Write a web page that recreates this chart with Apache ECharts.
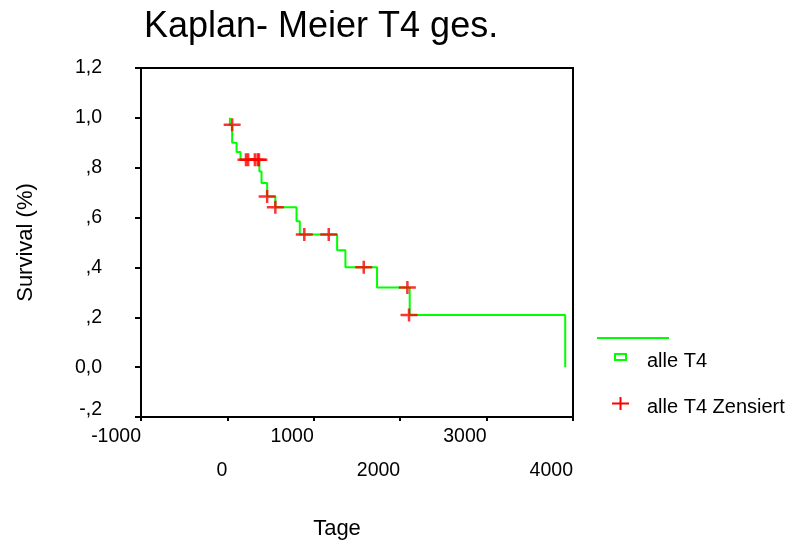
<!DOCTYPE html>
<html>
<head>
<meta charset="utf-8">
<script src="https://cdn.jsdelivr.net/npm/echarts@6/dist/echarts.min.js"></script>
<style>
html,body{margin:0;padding:0;background:#fff;}
#c{width:790px;height:545px;}
</style>
</head>
<body>
<div id="c"></div>
<script>
// ---- data ----
var kmTimes = [29, 29, 55, 106, 152, 370, 395, 460, 555, 800, 838, 1270, 1366, 1732, 2110, 3910];
var kmSurv  = [1.0, 0.972, 0.90, 0.863, 0.832, 0.785, 0.739, 0.685, 0.641, 0.585, 0.532, 0.469, 0.401, 0.319, 0.209, 0.0];
var censTimes = [55, 215, 240, 318, 350, 365, 460, 555, 890, 1173, 1578, 2083, 2102];
var censSurv  = [0.972, 0.832, 0.832, 0.832, 0.832, 0.832, 0.685, 0.641, 0.532, 0.532, 0.401, 0.319, 0.209];
var xTickValues = [-1000, 0, 1000, 2000, 3000, 4000];
var xTickLabels = ['-1000', '0', '1000', '2000', '3000', '4000'];
var yTickValues = [-0.2, 0, 0.2, 0.4, 0.6, 0.8, 1.0, 1.2];
var yTickLabels = ['-,2', '0,0', ',2', ',4', ',6', ',8', '1,0', '1,2'];
var titleText = 'Kaplan- Meier T4 ges.';
var xName = 'Tage';
var yName = 'Survival (%)';
var seriesNames = ['alle T4', 'alle T4 Zensiert'];

var FONT = '"Liberation Sans", Arial, sans-serif';
function lookup(vals, labels, v) {
  for (var i = 0; i < vals.length; i++) if (Math.abs(vals[i] - v) < 1e-6) return {i: i, t: labels[i]};
  return {i: -1, t: ''};
}
var kmData = kmTimes.map(function (t, i) { return [t, kmSurv[i]]; });
var censData = censTimes.map(function (t, i) { return [t, censSurv[i]]; });
var PLUS = 'path://M0,5.25H7.25V0H9.75V5.25H17V7.75H9.75V13H7.25V7.75H0Z';

var chart = echarts.init(document.getElementById('c'), null, {renderer: 'canvas'});
chart.setOption({
  animation: false,
  backgroundColor: '#ffffff',
  title: {
    text: titleText, left: 144, top: 9, padding: 0,
    textStyle: {fontFamily: FONT, fontSize: 36, fontWeight: 'normal', color: '#000'}
  },
  grid: {left: 141, right: 217, top: 68, bottom: 127, show: true, borderColor: '#000', borderWidth: 2, containLabel: false},
  xAxis: {
    type: 'value', min: -1000, max: 4000, interval: 1000,
    name: xName, nameLocation: 'middle', nameGap: 101,
    nameTextStyle: {fontFamily: FONT, fontSize: 22, color: '#000', padding: [0, 40, 0, 0]},
    axisLine: {show: true, onZero: false, lineStyle: {color: '#000', width: 2}},
    axisTick: {show: true, length: 4, lineStyle: {color: '#000', width: 2}},
    splitLine: {show: false},
    axisLabel: {
      fontFamily: FONT, fontSize: 19.5, color: '#000', align: 'right', margin: 3, lineHeight: 34,
      formatter: function (v) {
        var r = lookup(xTickValues, xTickLabels, v);
        return (r.i % 2 === 1 ? '\n' : '') + r.t;
      }
    }
  },
  yAxis: {
    type: 'value', min: -0.2, max: 1.2, interval: 0.2,
    name: yName, nameLocation: 'middle', nameGap: 104, nameRotate: 90,
    nameTextStyle: {fontFamily: FONT, fontSize: 22, color: '#000'},
    axisLine: {show: true, onZero: false, lineStyle: {color: '#000', width: 2}},
    axisTick: {show: true, length: 6, lineStyle: {color: '#000', width: 2}},
    splitLine: {show: false},
    axisLabel: {
      fontFamily: FONT, fontSize: 19.5, color: '#000', margin: 39,
      formatter: function (v) {
        var r = lookup(yTickValues, yTickLabels, v);
        return r.i === 0 ? '{low|' + r.t + '}' : r.t;
      },
      rich: {low: {fontFamily: FONT, fontSize: 19.5, color: '#000', padding: [0, 0, 14, 0]}}
    }
  },
  series: [
    {
      name: seriesNames[0], type: 'line', data: kmData, step: 'end',
      showSymbol: false, symbol: 'none',
      lineStyle: {color: '#00ff00', width: 2}, z: 2
    },
    {
      name: seriesNames[1], type: 'scatter', data: censData,
      symbol: PLUS, symbolSize: [17, 13],
      itemStyle: {color: '#ff0000'}, z: 3
    }
  ],
  graphic: [
    {type: 'line', shape: {x1: 597, y1: 338, x2: 669, y2: 338}, style: {stroke: '#00ff00', lineWidth: 2}},
    {type: 'rect', shape: {x: 615, y: 354, width: 11, height: 6}, style: {fill: 'none', stroke: '#00ff00', lineWidth: 2}},
    {type: 'text', x: 647, y: 361, style: {text: seriesNames[0], fontFamily: FONT, fontSize: 20, fill: '#000', verticalAlign: 'middle'}},
    {type: 'rect', shape: {x: 612, y: 402.5, width: 17, height: 2}, style: {fill: '#ff0000'}},
    {type: 'rect', shape: {x: 619.5, y: 397, width: 2, height: 13}, style: {fill: '#ff0000'}},
    {type: 'text', x: 647, y: 407, style: {text: seriesNames[1], fontFamily: FONT, fontSize: 20, fill: '#000', verticalAlign: 'middle'}}
  ]
});
</script>
</body>
</html>
